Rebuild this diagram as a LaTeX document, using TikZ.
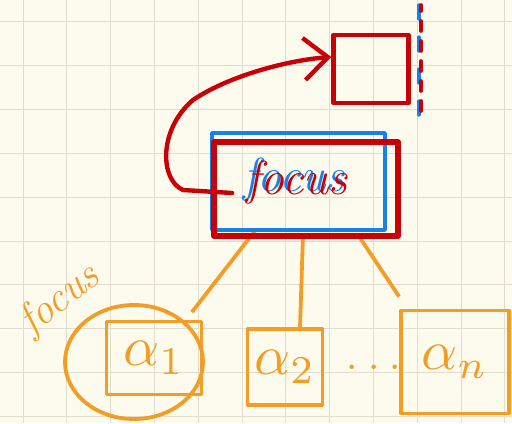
\documentclass[tikz,border=0pt]{standalone}
\usepackage{graphicx}
\usetikzlibrary{arrows.meta,positioning,shapes.geometric}

\definecolor{paper}{RGB}{253,251,238}
\definecolor{gridline}{RGB}{226,222,206}
\definecolor{inkred}{RGB}{200,0,8}
\definecolor{inkblue}{RGB}{24,128,236}
\definecolor{inkorange}{RGB}{243,157,38}

\pgfdeclarelayer{paper}
\pgfdeclarelayer{under}
\pgfsetlayers{paper,under,main}

% math letters drawn large
\newcommand{\bigsym}[1]{\scalebox{8}{$#1$}}

\begin{document}
\begin{tikzpicture}[x=0.5mm,y=-0.5mm,line cap=round,line join=round,>={Straight Barb[length=12mm,width=21mm]}, red box/.style={draw=inkred,line width=2.2mm,inner sep=0pt}, blue box/.style={draw=inkblue,line width=1.7mm,inner sep=0pt}, leaf node/.style={draw=inkorange,line width=1.9mm,text=inkorange,inner sep=0pt}, big text/.style={inner sep=0pt,font=\fontsize{68}{68}\selectfont\itshape}]

  \useasboundingbox (0,0) rectangle (512,423);
  \begin{pgfonlayer}{paper}
    \fill[paper] (0,0) rectangle (512,423);
    \foreach \g in {0,...,11}
      \draw[gridline,line width=0.5mm] (23+43.8*\g,0) -- (23+43.8*\g,423);
    \foreach \g in {0,...,9}
      \draw[gridline,line width=0.5mm] (0,22+43.8*\g) -- (512,22+43.8*\g);
  \end{pgfonlayer}

  % the focus itself
  \node[blue box, minimum width=86.5mm, minimum height=48.5mm] (focus shadow) at (298.5,181.5) {};
  \node[text=inkblue, big text] (focus text shadow) at (294,180) {focus};
  \node[red box, line width=2.8mm, minimum width=92mm, minimum height=47mm] (focus) at (306,189) {};
  \node[text=inkred, big text] (focus text) at (297,183) {focus};

  % children of the focus
  \node[leaf node, minimum width=47.5mm, minimum height=36.5mm] (a1) at (154,358) {\bigsym{\alpha_1}};
  \node[leaf node, minimum width=37.5mm, minimum height=38mm] (a2) at (285,367) {\bigsym{\alpha_2}};
  \node[leaf node, minimum width=54mm, minimum height=51.5mm] (an) at (455,362) {\bigsym{\alpha_n}};
  \node[text=inkorange, inner sep=0pt, font=\fontsize{76}{76}\selectfont] (dots) at (374,367) {.\kern0.15em.\kern0.15em.};
  \node[draw=inkorange, ellipse, line width=1.9mm, minimum width=69mm, minimum height=57mm] (ring) at (134,362) {};
  \node[text=inkorange, inner sep=0pt, font=\fontsize{60}{60}\selectfont\itshape, rotate=38] (ring label) at (60,300) {focus};

  \begin{pgfonlayer}{under}
    \path[-,draw=inkorange,line width=1.9mm]
         ([xshift=-25.5mm,yshift=4mm]focus.south) edge ([xshift=-5.75mm,yshift=3.75mm]a1.north east)
         ([xshift=-1.5mm,yshift=2mm]focus.south) edge ([xshift=7.5mm]a2.north)
         ([xshift=27mm,yshift=0.5mm]focus.south) edge ([yshift=6mm]an.north west);
  \end{pgfonlayer}

  % the node it came from
  \node[red box, minimum width=37.5mm, minimum height=34mm] (sub) at (371,69) {};
  \coordinate (cut top) at (421,5);
  \coordinate (cut bottom) at (421,115);
  \draw[inkblue, line width=1.6mm, dash pattern=on 7mm off 9mm] ([xshift=-1mm]cut top) -- ([xshift=-1mm]cut bottom);
  \draw[inkred, line width=1.8mm, dash pattern=on 5mm off 5mm, dash phase=2mm] (cut top) -- (cut bottom);

  \draw[->, inkred, line width=2.2mm]
       ([xshift=10.5mm,yshift=-2mm]focus.west) -- (183,190)
       .. controls (160,180) and (158,130) .. (193,100)
       .. controls (230,75) and (290,60) .. ([yshift=6mm]sub.west);
\end{tikzpicture}
\end{document}
